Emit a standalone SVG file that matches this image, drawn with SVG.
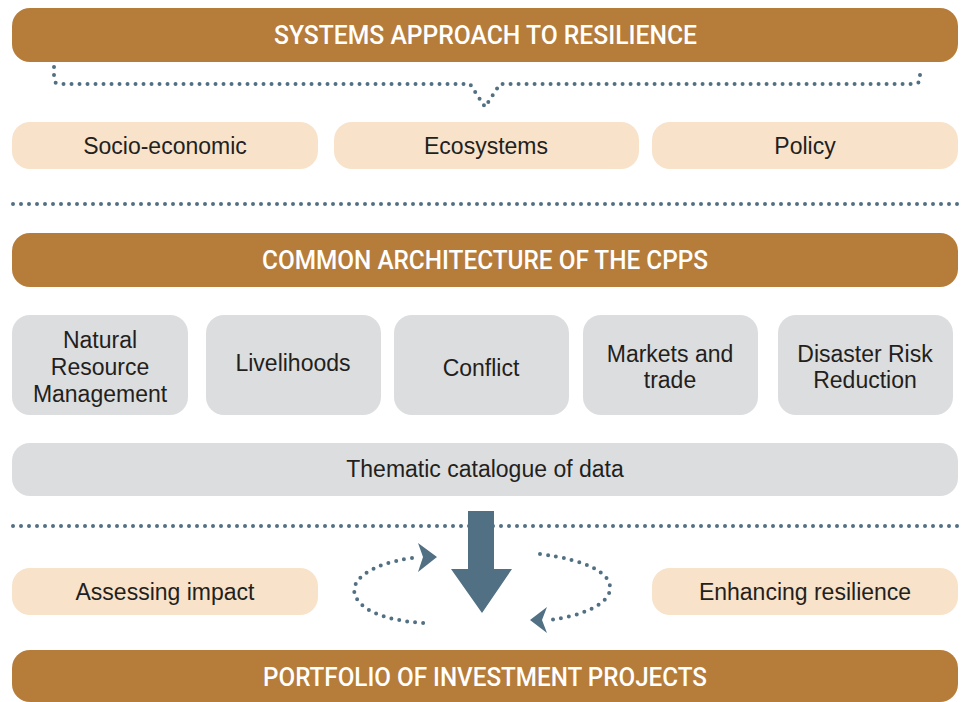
<svg xmlns="http://www.w3.org/2000/svg" width="971" height="702" viewBox="0 0 971 702">
<defs>
<style>
.bar{fill:#B67C3A}
.pale{fill:#F8E2C9}
.grey{fill:#DCDDDF}
.title{font-family:Roboto,"Liberation Sans",sans-serif;font-weight:500;font-size:25px;fill:#ffffff;text-anchor:middle}
.lbl{font-family:"Liberation Sans",Arial,sans-serif;font-size:23px;fill:#231F20;text-anchor:middle}
.dot{fill:none;stroke:#517083;stroke-width:4;stroke-linecap:round;stroke-dasharray:0 8}
.blue{fill:#517083}
</style>
</defs>
<g id="systems-approach">
<rect class="bar" x="12" y="8" width="946" height="54" rx="18"/>
<text class="title" x="485.5" y="44" textLength="423" lengthAdjust="spacingAndGlyphs">SYSTEMS APPROACH TO RESILIENCE</text>
</g>
<g id="socio-economic"><rect class="pale" x="12" y="122" width="306" height="47" rx="18"/><text class="lbl" x="165" y="154">Socio-economic</text></g>
<g id="ecosystems"><rect class="pale" x="334" y="122" width="305" height="47" rx="18"/><text class="lbl" x="486" y="154">Ecosystems</text></g>
<g id="policy"><rect class="pale" x="652" y="122" width="306" height="47" rx="18"/><text class="lbl" x="805" y="154">Policy</text></g>
<g id="common-architecture">
<rect class="bar" x="12" y="233" width="946" height="54" rx="18"/>
<text class="title" x="485" y="269" textLength="446" lengthAdjust="spacingAndGlyphs">COMMON ARCHITECTURE OF THE CPPS</text>
</g>
<g id="nrm"><rect class="grey" x="12" y="315" width="176" height="100" rx="18"/>
<text class="lbl" x="100" y="348">Natural</text><text class="lbl" x="100" y="375">Resource</text><text class="lbl" x="100" y="402">Management</text></g>
<g id="livelihoods"><rect class="grey" x="206" y="315" width="175" height="100" rx="18"/><text class="lbl" x="293" y="371">Livelihoods</text></g>
<g id="conflict"><rect class="grey" x="394" y="315" width="175" height="100" rx="18"/><text class="lbl" x="481" y="376">Conflict</text></g>
<g id="markets"><rect class="grey" x="583" y="315" width="175" height="100" rx="18"/><text class="lbl" x="670" y="362">Markets and</text><text class="lbl" x="670" y="388">trade</text></g>
<g id="drr"><rect class="grey" x="778" y="315" width="175" height="100" rx="18"/><text class="lbl" x="865" y="362">Disaster Risk</text><text class="lbl" x="865" y="388">Reduction</text></g>
<g id="thematic"><rect class="grey" x="12" y="443" width="946" height="53" rx="18"/><text class="lbl" x="485" y="477">Thematic catalogue of data</text></g>
<g id="assessing"><rect class="pale" x="12" y="568" width="306" height="47" rx="18"/><text class="lbl" x="165" y="600">Assessing impact</text></g>
<g id="enhancing"><rect class="pale" x="652" y="568" width="306" height="47" rx="18"/><text class="lbl" x="805" y="600">Enhancing resilience</text></g>
<g id="portfolio">
<rect class="bar" x="12" y="650" width="946" height="52" rx="18"/>
<text class="title" x="485" y="686" textLength="444" lengthAdjust="spacingAndGlyphs">PORTFOLIO OF INVESTMENT PROJECTS</text>
</g>
<g id="connectors">
<path class="dot" d="M54 67 L54 78 Q54 84 60 84 L470 84 L485 107 L500 84 L914 84 Q920 84 920 78 L920 67"/>
<path class="dot" d="M13 204 L960 204"/>
<path class="dot" d="M13 526 L960 526"/>
<path class="dot" d="M412 558 C370 564 350 580 355 595 C362 615 400 622 425 623"/>
<polygon class="blue" points="418,543 437,557 418,572 423,557"/>
<path class="dot" d="M540 554 C585 560 612 572 610 590 C607 607 575 617 550 620"/>
<polygon class="blue" points="547,607 530,620 547,633 542,620"/>
<polygon class="blue" points="468,511 494,511 494,569 512,569 482,613 451,569 468,569"/>
</g>
</svg>
